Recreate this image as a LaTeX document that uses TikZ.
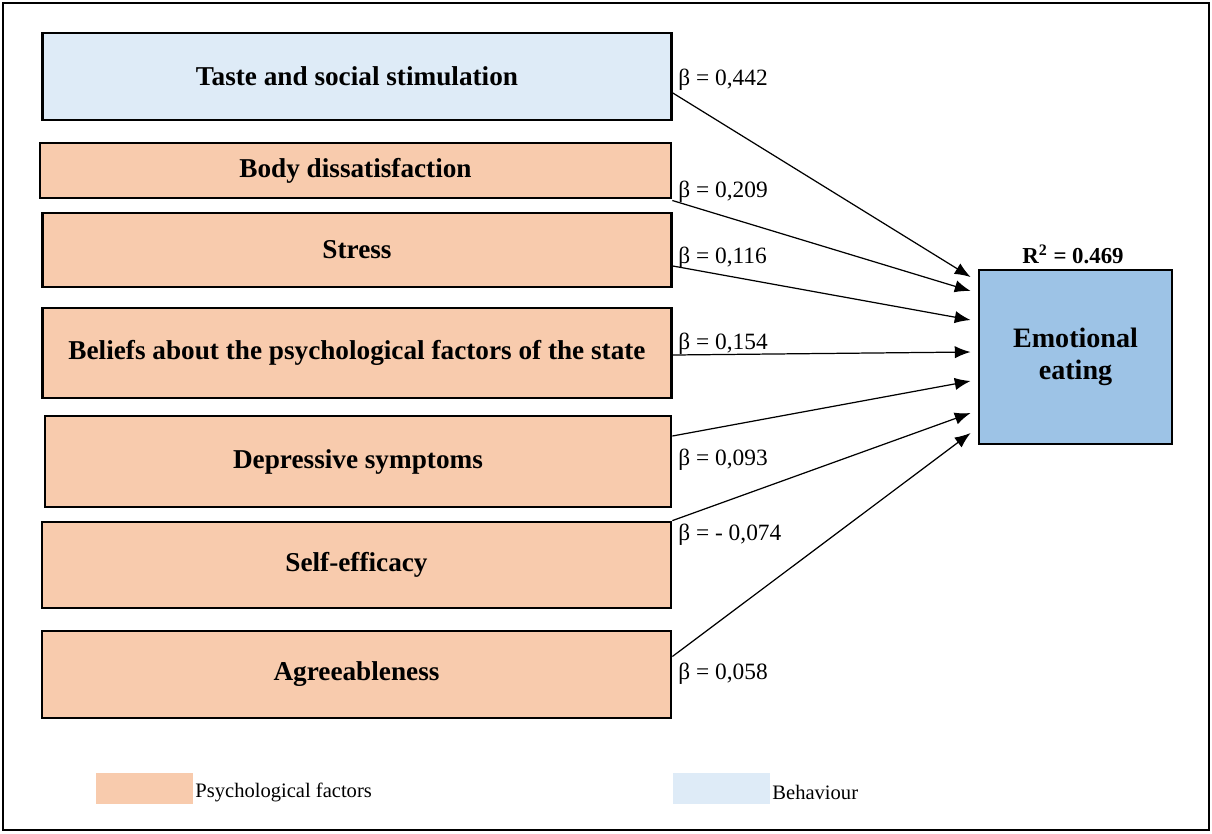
\documentclass[tikz,border=0pt]{standalone}
\usepackage{fontspec}
\setmainfont{Liberation Serif}
\usetikzlibrary{arrows.meta}

\definecolor{psych}{HTML}{F8CBAD}
\definecolor{behav}{HTML}{DEEBF7}
\definecolor{outcome}{HTML}{9DC3E6}

\begin{document}
\begin{tikzpicture}[x=0.02cm,y=-0.02cm,
    factor/.style={draw,line width=1.6pt,fill=psych,inner sep=0pt,
        font=\fontsize{15.5}{17}\selectfont\bfseries},
    beta/.style={anchor=west,inner sep=0pt,font=\fontsize{13.3}{15}\selectfont},
    path/.style={-{Latex[length=9pt,width=7pt]},line width=0.7pt}]
    % Box dimensions
    \def\boxwidth{12.58cm}

    % Frame
    \useasboundingbox (0,0) rectangle (1212,833);
    \draw[line width=0.8pt] (3,3) rectangle (1209,830);

    % Predictor boxes
    \node[factor,fill=behav,minimum width=\boxwidth,minimum height=1.74cm] (taste) at (357,76.5) {Taste and social stimulation};
    \node[factor,minimum width=12.62cm,minimum height=1.1cm] (body) at (355.5,170.5) {Body dissatisfaction};
    \node[factor,minimum width=\boxwidth,minimum height=1.48cm] (stress) at (357,250) {Stress};
    \node[factor,minimum width=\boxwidth,minimum height=1.8cm] (beliefs) at (357,353) {Beliefs about the psychological factors of the state};
    \node[factor,minimum width=12.52cm,minimum height=1.82cm] (depr) at (358,461.5) {Depressive symptoms};
    \node[factor,minimum width=12.58cm,minimum height=1.72cm] (selfeff) at (356.5,565) {Self-efficacy};
    \node[factor,minimum width=12.58cm,minimum height=1.74cm] (agree) at (356.5,674.5) {Agreeableness};

    % Outcome
    \node[factor,fill=outcome,minimum width=3.86cm,minimum height=3.48cm,align=center,
        font=\fontsize{16}{18}\selectfont\bfseries] (emo) at (1075.5,357) {Emotional\\eating};
    \node[anchor=south,inner sep=0pt,font=\fontsize{13}{15}\selectfont\bfseries] (rsq) at (1073,264) {R$^{\mathbf{2}}$ = 0.469};

    % Paths
    \draw[path] ([yshift=-0.33cm]taste.east) -- ([yshift=1.6cm,xshift=-4pt]emo.west);
    \draw[path] ([yshift=-0.6cm]body.east) -- ([yshift=1.32cm,xshift=-4pt]emo.west);
    \draw[path] ([yshift=-0.32cm]stress.east) -- ([yshift=0.74cm,xshift=-4pt]emo.west);
    \draw[path] ([yshift=-0.04cm]beliefs.east) -- ([yshift=0.1cm,xshift=-4pt]emo.west);
    \draw[path] ([yshift=0.51cm]depr.east) -- ([yshift=-0.48cm,xshift=-4pt]emo.west);
    \draw[path] (selfeff.north east) -- ([yshift=-1.12cm,xshift=-4pt]emo.west);
    \draw[path] ([yshift=0.36cm]agree.east) -- ([yshift=-1.52cm,xshift=-4pt]emo.west);

    % Coefficients
    \node[beta] (b1) at (678,80) {β = 0,442};
    \node[beta] (b2) at (678,192) {β = 0,209};
    \node[beta] (b3) at (678,258) {β = 0,116};
    \node[beta] (b4) at (678,344) {β = 0,154};
    \node[beta] (b5) at (678,460) {β = 0,093};
    \node[beta] (b6) at (678,535) {β = - 0,074};
    \node[beta] (b7) at (678,674) {β = 0,058};

    % Legend
    \node[fill=psych,minimum width=1.94cm,minimum height=0.62cm,inner sep=0pt] (lpsych) at (144.5,788.5) {};
    \node[anchor=west,inner sep=1pt,font=\fontsize{11.7}{13}\selectfont] (tpsych) at ([yshift=-0.08cm]lpsych.east) {Psychological factors};
    \node[fill=behav,minimum width=1.94cm,minimum height=0.62cm,inner sep=0pt] (lbehav) at (721.5,788.5) {};
    \node[anchor=west,inner sep=1pt,font=\fontsize{11.7}{13}\selectfont] (tbehav) at ([yshift=-0.08cm]lbehav.east) {Behaviour};
\end{tikzpicture}
\end{document}
